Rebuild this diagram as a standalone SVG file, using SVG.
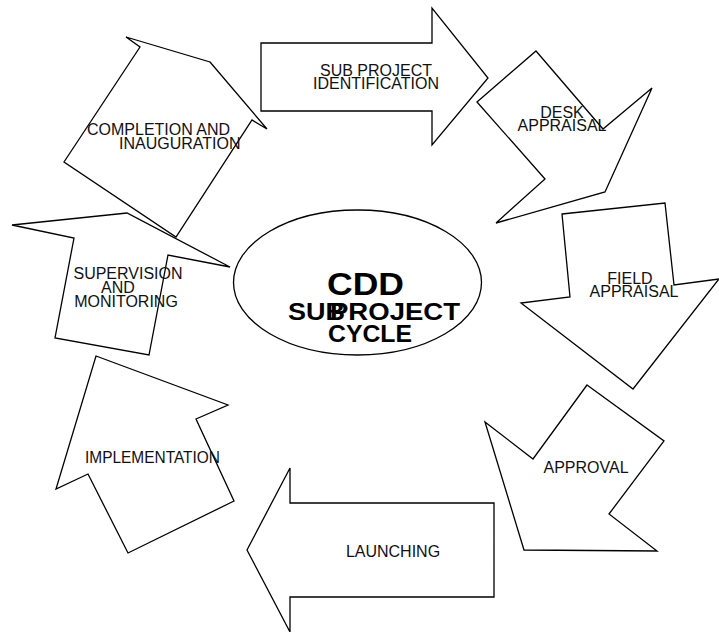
<svg xmlns="http://www.w3.org/2000/svg" width="719" height="632" viewBox="0 0 719 632">
<style>
.shape{fill:#fff;stroke:#000;stroke-width:1.3;stroke-linejoin:miter}
.lbl{font-family:"Liberation Sans",Arial,sans-serif;font-size:16px;fill:#111}
.mid{text-anchor:middle}
.big{font-family:"Liberation Sans",Arial,sans-serif;font-weight:bold;fill:#000}
</style>
<rect width="719" height="632" fill="#fff"/>
<g id="connectors"></g>
<g id="identification">
<polygon class="shape" points="261,43 432,43 432,8 488,78 432,145 432,111 261,111"/>
<text class="lbl mid" x="376" y="76">SUB PROJECT</text>
<text class="lbl mid" x="376" y="89">IDENTIFICATION</text>
</g>
<g id="desk-appraisal">
<polygon class="shape" points="477,102 536,51 603,129 652,88 605,192 496,223 545,179"/>
<text class="lbl mid" x="562" y="118">DESK</text>
<text class="lbl mid" x="562" y="131">APPRAISAL</text>
</g>
<g id="field-appraisal">
<polygon class="shape" points="562,214 665,203 674,285 719,279 633,389 521,303 570,297"/>
<text class="lbl mid" x="630" y="284">FIELD</text>
<text class="lbl mid" x="634" y="297">APPRAISAL</text>
</g>
<g id="approval">
<polygon class="shape" points="587,385 664,441 609,514 657,551 524,550 485,422 533,459"/>
<text class="lbl mid" x="586" y="473">APPROVAL</text>
</g>
<g id="launching">
<polygon class="shape" points="494,503 290,503 290,468 247,550 290,632 290,597 494,597"/>
<text class="lbl mid" x="393" y="557">LAUNCHING</text>
</g>
<g id="implementation">
<polygon class="shape" points="96,356 228,405 196,419 234,501 128,553 88,474 56,489"/>
<text class="lbl" x="85" y="463" textLength="135" lengthAdjust="spacingAndGlyphs">IMPLEMENTATION</text>
</g>
<g id="supervision">
<polygon class="shape" points="12,225 127,213 230,267 168,255 149,355 55,338 74,238"/>
<text class="lbl mid" x="128" y="279">SUPERVISION</text>
<text class="lbl mid" x="118" y="293">AND</text>
<text class="lbl mid" x="126" y="307">MONITORING</text>
</g>
<g id="completion">
<polygon class="shape" points="210,62 267,129 252,120 176,237 64,162 140,47 126,37"/>
<text class="lbl" x="87" y="135">COMPLETION AND</text>
<text class="lbl" x="119" y="149">INAUGURATION</text>
</g>
<g id="center">
<ellipse class="shape" cx="357.5" cy="282.5" rx="124" ry="72.5"/>
<text class="big" x="327" y="295" font-size="32" textLength="77" lengthAdjust="spacingAndGlyphs">CDD</text>
<text class="big" x="288" y="320" font-size="23" textLength="57" lengthAdjust="spacingAndGlyphs">SUB</text>
<text class="big" x="330" y="320" font-size="23" textLength="130" lengthAdjust="spacingAndGlyphs">PROJECT</text>
<text class="big" x="328" y="342" font-size="23" textLength="84" lengthAdjust="spacingAndGlyphs">CYCLE</text>
</g>
</svg>
